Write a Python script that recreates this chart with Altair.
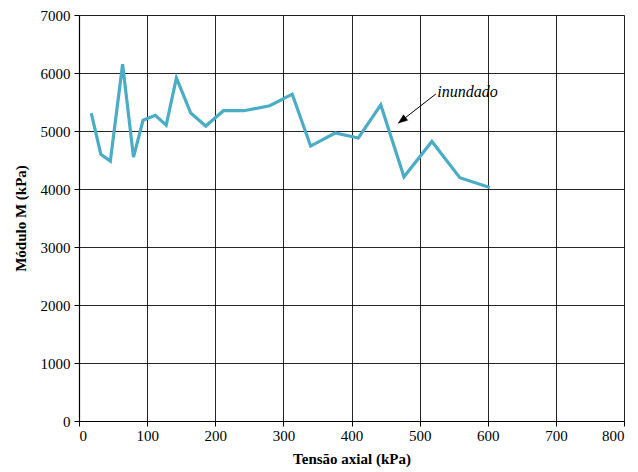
import altair as alt
import pandas as pd

# Axial stress (kPa) and constrained modulus M (kPa)
tensao = [18, 32, 46, 64, 80, 94, 112, 128, 143, 164, 186, 212, 242, 280,
          313, 340, 376, 410, 443, 477, 518, 559, 603]
modulo = [5310, 4600, 4480, 6150, 4550, 5185, 5270, 5100, 5915, 5310, 5085,
          5350, 5350, 5435, 5635, 4740, 4965, 4880, 5450, 4210, 4820, 4195, 4025]

x_ticks = [0, 100, 200, 300, 400, 500, 600, 700, 800]
y_ticks = [0, 1000, 2000, 3000, 4000, 5000, 6000, 7000]

# "inundado" note: label position and arrow from the label to the curve
note_text = ["inundado"]
note_x = [526]
note_y = [5670]
arrow_x = [524, 469]
arrow_y = [5640, 5137]

FONT = "Liberation Serif"

df = pd.DataFrame({"tensao": tensao, "modulo": modulo})
x_scale = alt.Scale(domain=[0, 800], nice=False, zero=False)
y_scale = alt.Scale(domain=[0, 7000], nice=False, zero=False)

x_axis = alt.Axis(
    values=x_ticks, format="d", title="Tensão axial (kPa)", grid=True,
    gridColor="black", gridOpacity=0.85, gridWidth=1, domainColor="black",
    domainWidth=1.2, tickColor="black", tickSize=5, labelFont=FONT,
    labelFontSize=15, labelColor="black", labelPadding=2, titleFont=FONT,
    titleFontSize=15, titleFontWeight="bold", titleColor="black",
    titlePadding=8,
)
y_axis = alt.Axis(
    values=y_ticks, format="d", title="Módulo M (kPa)", grid=True,
    gridColor="black", gridOpacity=0.85, gridWidth=1, domainColor="black",
    domainWidth=1.2, tickColor="black", tickSize=5, labelFont=FONT,
    labelFontSize=15, labelColor="black", labelPadding=4, titleFont=FONT,
    titleFontSize=15, titleFontWeight="bold", titleColor="black",
    titlePadding=12,
)

curve = alt.Chart(df).mark_line(color="#4BACC6", strokeWidth=3.2).encode(
    x=alt.X("tensao:Q", scale=x_scale, axis=x_axis),
    y=alt.Y("modulo:Q", scale=y_scale, axis=y_axis),
)

arrow_df = pd.DataFrame({"x": arrow_x, "y": arrow_y, "o": [0, 1]})
arrow_line = alt.Chart(arrow_df).mark_line(color="black", strokeWidth=1).encode(
    x=alt.X("x:Q", scale=x_scale),
    y=alt.Y("y:Q", scale=y_scale),
    order="o:Q",
)
arrow_head = alt.Chart(arrow_df.iloc[[1]]).mark_point(
    shape="M -0.38 1 L 0 0 L 0.38 1 Z", filled=True, fill="black",
    stroke="black", strokeWidth=0.5, size=320, angle=232, opacity=1,
).encode(
    x=alt.X("x:Q", scale=x_scale),
    y=alt.Y("y:Q", scale=y_scale),
)

note_df = pd.DataFrame({"x": note_x, "y": note_y, "t": note_text})
note = alt.Chart(note_df).mark_text(
    font=FONT, fontSize=16, fontStyle="italic", align="left",
    baseline="middle", color="black",
).encode(
    x=alt.X("x:Q", scale=x_scale),
    y=alt.Y("y:Q", scale=y_scale),
    text="t:N",
)

chart = (
    alt.layer(curve, arrow_line, arrow_head, note)
    .properties(
        width=545, height=406,
        autosize=alt.AutoSizeParams(type="none"),
        padding={"left": 79, "top": 15, "right": 14, "bottom": 51},
    )
    .configure_view(stroke="black", strokeWidth=1.2)
    .configure(background="white")
)

chart.save("out.html", embed_options={"renderer": "svg", "actions": False})
